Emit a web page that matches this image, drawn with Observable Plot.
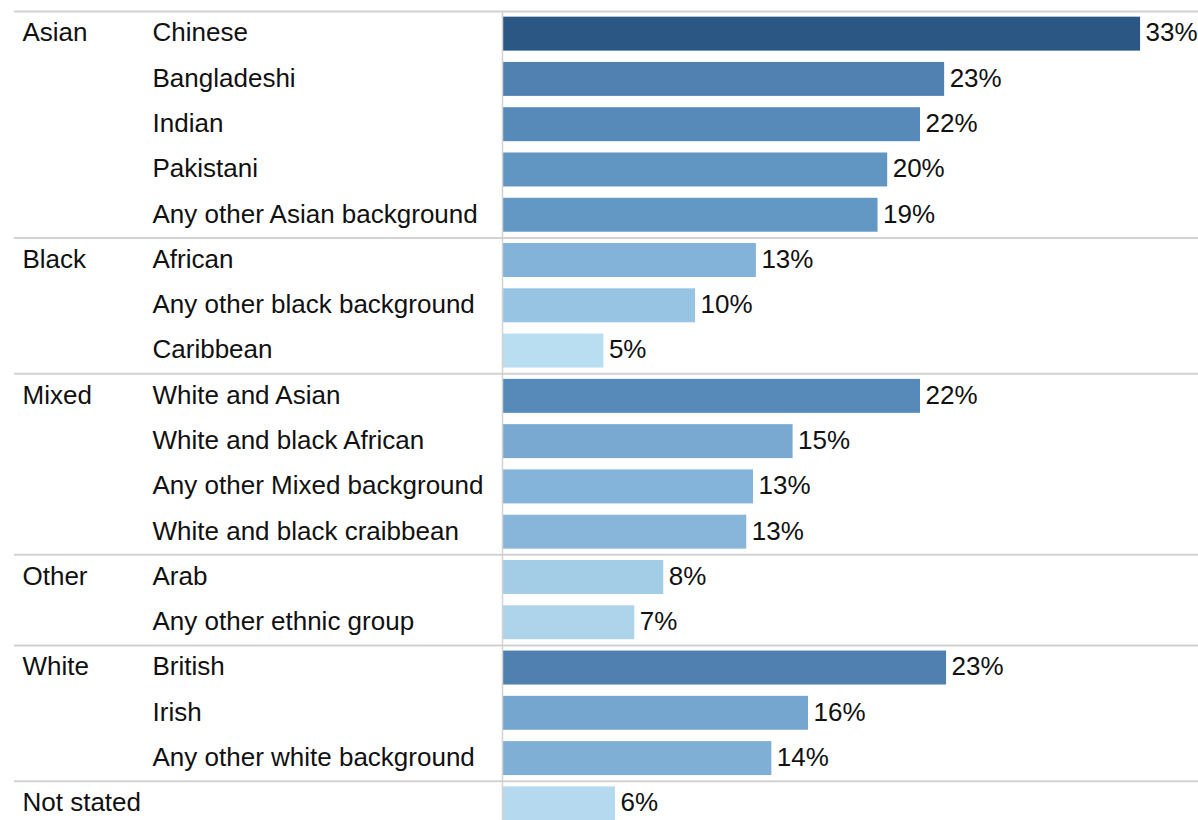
<!DOCTYPE html>
<html>
<head>
<meta charset="utf-8">
<script src="https://cdn.jsdelivr.net/npm/d3@7"></script>
<script src="https://cdn.jsdelivr.net/npm/@observablehq/plot@0.6"></script>
<style>
  html, body { margin: 0; padding: 0; overflow: hidden; background: #fff; }
</style>
</head>
<body>
<div id="chart"></div>
<script>
// Ethnic group of each row
const groups = [
  "Asian", "Asian", "Asian", "Asian", "Asian",
  "Black", "Black", "Black",
  "Mixed", "Mixed", "Mixed", "Mixed",
  "Other", "Other",
  "White", "White", "White",
  "Not stated"
];
// Detailed category of each row
const subgroups = [
  "Chinese", "Bangladeshi", "Indian", "Pakistani", "Any other Asian background",
  "African", "Any other black background", "Caribbean",
  "White and Asian", "White and black African", "Any other Mixed background", "White and black craibbean",
  "Arab", "Any other ethnic group",
  "British", "Irish", "Any other white background",
  ""
];
// Percentages
const values = [
  33.0, 22.85, 21.6, 19.9, 19.4,
  13.1, 9.95, 5.2,
  21.6, 15.0, 12.95, 12.6,
  8.3, 6.8,
  22.95, 15.8, 13.9,
  5.8
];
// Colour ramp stops (value -> colour)
const colorDomain = [5.2, 8, 10, 13, 15, 20, 23, 33];
const colorRange = ["#b9ddf1", "#a5cde8", "#98c4e3", "#84b4d9", "#79a9d1", "#6096c2", "#4f80b0", "#2a5783"];

const rows = values.map((v, i) => ({
  i,
  group: groups[i],
  sub: subgroups[i],
  value: v,
  first: i === 0 || groups[i] !== groups[i - 1]
}));
const firstRows = rows.filter(d => d.first);

const plot = Plot.plot({
  width: 1198,
  height: 826,
  marginTop: 11,
  marginBottom: 0,
  marginLeft: 503,
  marginRight: 0,
  x: { type: "linear", domain: [0, 36], axis: null },
  y: { type: "linear", domain: [0, rows.length], reverse: true, axis: null },
  color: { type: "linear", domain: colorDomain, range: colorRange },
  style: {
    fontFamily: "'Liberation Sans', Arial, sans-serif",
    fontSize: "26px",
    color: "#111",
    background: "#fff"
  },
  marks: [
    Plot.ruleY(firstRows, { y: "i", stroke: "#d2d2d2", strokeWidth: 2, insetLeft: -489 }),
    Plot.rect(rows, {
      x1: 0,
      x2: "value",
      y1: d => d.i + 0.125,
      y2: d => d.i + 0.875,
      fill: "value"
    }),
    Plot.ruleX([0], { y1: 0, y2: rows.length, stroke: "#d2d2d2", strokeWidth: 1.5, dx: -1 }),
    Plot.text(rows, {
      x: "value",
      y: d => d.i + 0.5,
      text: d => Math.round(d.value) + "%",
      textAnchor: "start",
      dx: 5,
      dy: -1,
      fill: "#111"
    }),
    Plot.text(rows, {
      y: d => d.i + 0.5,
      text: "sub",
      frameAnchor: "left",
      textAnchor: "start",
      dx: -351,
      dy: -1,
      fill: "#111"
    }),
    Plot.text(firstRows, {
      y: d => d.i + 0.5,
      text: "group",
      frameAnchor: "left",
      textAnchor: "start",
      dx: -481,
      dy: -1,
      fill: "#111"
    })
  ]
});
document.getElementById("chart").appendChild(plot);
</script>
</body>
</html>
